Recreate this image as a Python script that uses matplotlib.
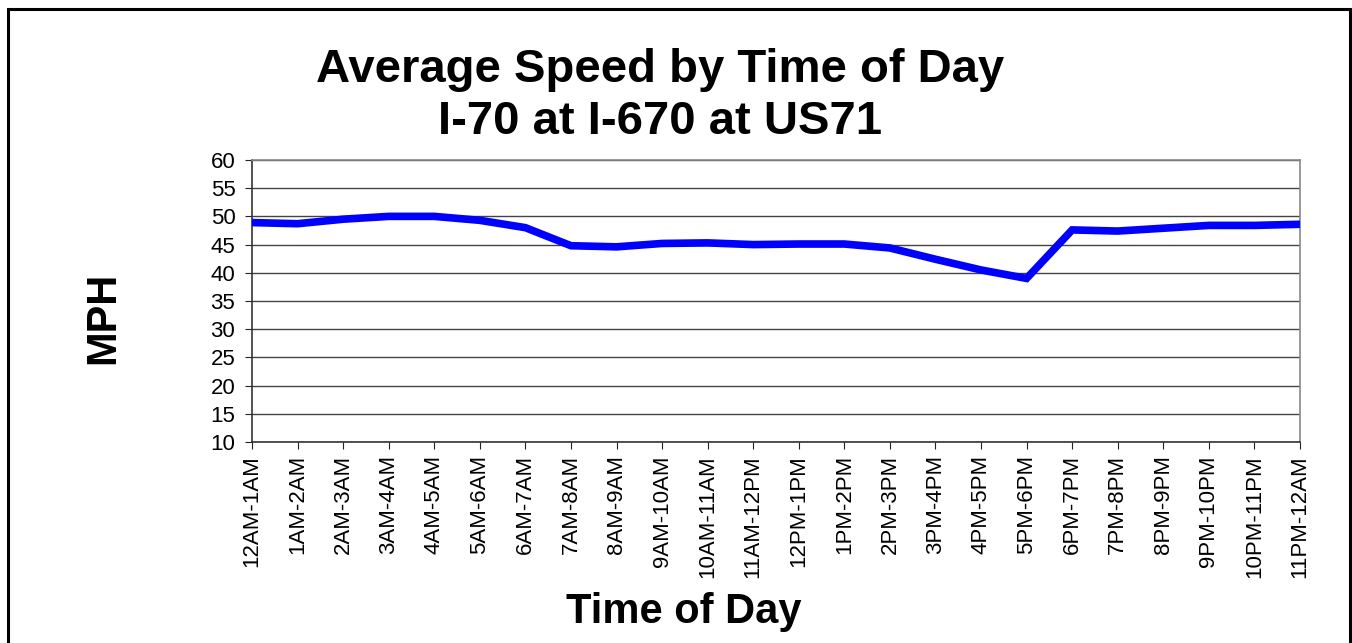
import matplotlib.pyplot as plt
from matplotlib.patches import Rectangle

plt.rcParams['font.family'] = ['Liberation Sans', 'DejaVu Sans']

hours = ['12AM-1AM', '1AM-2AM', '2AM-3AM', '3AM-4AM', '4AM-5AM', '5AM-6AM',
         '6AM-7AM', '7AM-8AM', '8AM-9AM', '9AM-10AM', '10AM-11AM', '11AM-12PM',
         '12PM-1PM', '1PM-2PM', '2PM-3PM', '3PM-4PM', '4PM-5PM', '5PM-6PM',
         '6PM-7PM', '7PM-8PM', '8PM-9PM', '9PM-10PM', '10PM-11PM', '11PM-12AM']
speed = [48.9, 48.7, 49.5, 50.0, 50.0, 49.3,
         48.0, 44.8, 44.6, 45.2, 45.3, 45.0,
         45.1, 45.1, 44.4, 42.4, 40.5, 39.0,
         47.6, 47.4, 47.9, 48.4, 48.4, 48.6]
yticks = list(range(10, 61, 5))

fig = plt.figure(figsize=(13.52, 6.43), dpi=100)
ax = fig.add_axes([0.1864, 0.3126, 0.7751, 0.4386])

ax.plot(range(len(hours)), speed, color='#0000ff', linewidth=5.5, solid_joinstyle='miter', zorder=3)

ax.set_xlim(0, len(hours) - 1)
ax.set_ylim(10, 60)
ax.set_yticks(yticks)
ax.set_xticks(range(len(hours)))
ax.set_xticklabels(hours, rotation=90, fontsize=16)
ax.tick_params(axis='y', labelsize=16, length=5, pad=7, color='#222222')
ax.tick_params(axis='x', length=5, pad=4.5, color='#222222')

ax.grid(axis='y', color='#444444', linewidth=1)
ax.set_axisbelow(True)
ax.spines['left'].set_color('#333333')
ax.spines['bottom'].set_color('#333333')
ax.spines['top'].set_color('#888888')
ax.spines['right'].set_color('#888888')
for s in ax.spines.values():
    s.set_linewidth(1.2)

fig.text(660/1352, 1 - 70/643, 'Average Speed by Time of Day', ha='center', va='center',
         fontsize=34, fontweight='bold')
fig.text(660/1352, 1 - 122/643, 'I-70 at I-670 at US71', ha='center', va='center',
         fontsize=34, fontweight='bold')
fig.text(103/1352, 1 - 318/643, 'MPH', rotation=90, ha='center', va='center',
         fontsize=30, fontweight='bold')
fig.text(684/1352, 1 - 612/643, 'Time of Day', ha='center', va='center',
         fontsize=30, fontweight='bold')

# chart border (bottom edge falls outside the image)
fig.patches.append(Rectangle((8/1352, -0.1), 1342/1352, 1.1 - 9/643, transform=fig.transFigure,
                             fill=False, edgecolor='black', linewidth=2.2))

fig.savefig('out.png', dpi=100, facecolor='white')
